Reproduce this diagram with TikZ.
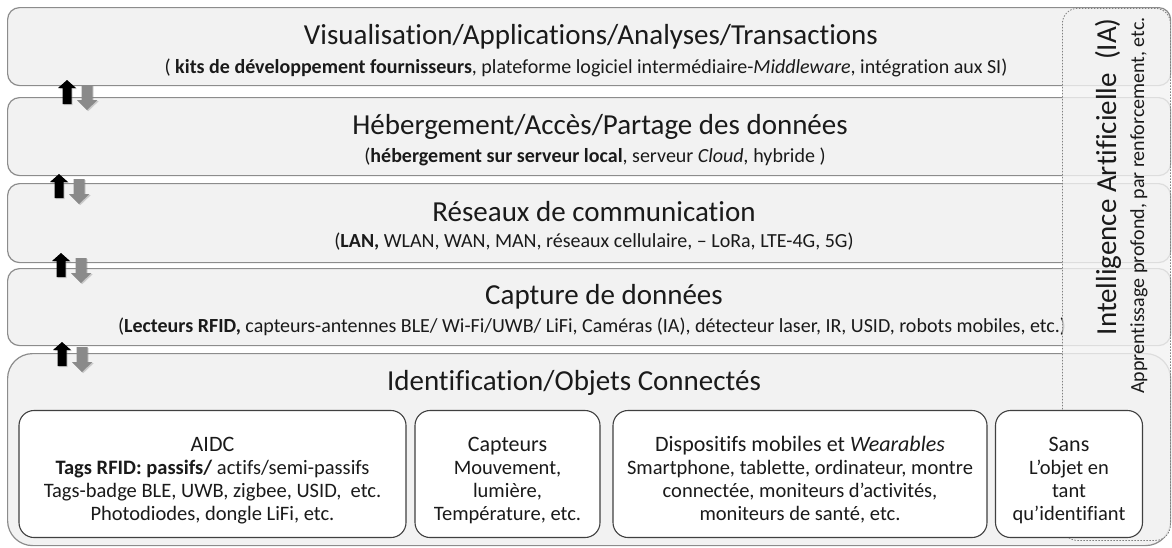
\documentclass[tikz,border=0pt]{standalone}
\usepackage{fontspec}
\setmainfont{Carlito}[Ligatures=NoCommon]
\usetikzlibrary{shadows}
\definecolor{layerfill}{HTML}{F2F2F2}
\definecolor{layerdraw}{HTML}{8C8C8C}
\definecolor{boxdraw}{HTML}{404040}
\definecolor{txt}{HTML}{1A1A1A}
\definecolor{downgray}{HTML}{8A8A8A}
\newcommand{\boxhead}[1]{{\fontsize{22}{23}\selectfont\rule{0pt}{27pt}#1}}
\begin{document}
\begin{tikzpicture}[x=1pt,y=-1pt,
  layer/.style={draw=layerdraw, fill=layerfill, line width=1.2pt, rounded corners=12pt, anchor=north west, inner sep=0pt},
  ltitle/.style={text=txt, font=\fontsize{29}{32}\selectfont, inner sep=0pt},
  lsub/.style={text=txt, font=\fontsize{20}{23}\selectfont, inner sep=0pt},
  inbox/.style={draw=boxdraw, fill=white, line width=1.1pt, rounded corners=15pt, align=center, text=txt,
     font=\fontsize{20.5}{23}\selectfont, inner sep=0pt, minimum height=127pt},
  aibox/.style={draw=gray, dash pattern=on 1.5pt off 1.5pt, line width=0.8pt, fill=layerfill, fill opacity=0.8,
     rounded corners=15pt, anchor=north west, inner sep=0pt, minimum width=108pt, minimum height=532pt},
  updown/.pic={
    \fill[black, drop shadow={shadow xshift=1.2pt, shadow yshift=-1.2pt, opacity=0.35}]
      (9,0) -- (18,8) -- (13.5,8) -- (13.5,24) -- (4.5,24) -- (4.5,8) -- (0,8) -- cycle;
    \fill[downgray, drop shadow={shadow xshift=1.2pt, shadow yshift=-1.2pt, opacity=0.35}]
      (23.5,5) -- (34.5,5) -- (34.5,20) -- (39.5,20) -- (29,30) -- (19,20) -- (23.5,20) -- cycle;
  }
]
\useasboundingbox (0,0) rectangle (1172,547);

% layers
\node[layer, minimum width=1163pt, minimum height=78pt] (L1) at (7,7) {};
\node[layer, minimum width=1163pt, minimum height=78pt] (L2) at (7,97) {};
\node[layer, minimum width=1163pt, minimum height=79pt] (L3) at (7,183) {};
\node[layer, minimum width=1163pt, minimum height=77pt] (L4) at (7,268) {};
\node[layer, rounded corners=25pt, minimum width=1163pt, minimum height=192pt] (L5) at (7,353) {};

% layer texts
\node[ltitle] (t1) at (591,37) {Visualisation/Applications/Analyses/Transactions};
\node[lsub] (s1) at (586,68) {( \textbf{kits de développement fournisseurs}, plateforme logiciel intermédiaire-\textit{Middleware}, intégration aux SI)};
\node[ltitle] (t2) at (600,127) {Hébergement/Accès/Partage des données};
\node[lsub] (s2) at (595,157) {(\textbf{hébergement sur serveur local}, serveur \textit{Cloud,} hybride )};
\node[ltitle] (t3) at (594,212) {Réseaux de communication};
\node[lsub] (s3) at (594,242) {(\textbf{LAN,} WLAN, WAN, MAN, réseaux cellulaire, – LoRa, LTE-4G, 5G)};
\node[ltitle] (t4) at (604,297) {Capture de données};
\node[lsub] (s4) at (592,327) {(\textbf{Lecteurs RFID,} capteurs-antennes BLE/ Wi-Fi/UWB/ LiFi, Caméras (IA), détecteur laser, IR, USID, robots mobiles, etc.)};
\node[ltitle] (t5) at (574,383) {Identification/Objets Connectés};

% arrows
\pic (a1) at (58,80) {updown};
\pic (a2) at (50,174) {updown};
\pic (a3) at (52,253) {updown};
\pic (a4) at (53,342) {updown};

% AI box
\node[aibox] (ai) at (1062,8) {};
\node[rotate=90, anchor=east, text=txt, font=\fontsize{29}{32}\selectfont, inner sep=0pt] (ait) at (1108,18) {Intelligence Artificielle~~(IA)};
\node[rotate=90, anchor=east, text=txt, font=\fontsize{20}{23}\selectfont, inner sep=0pt] (ais) at (1139,17) {Apprentissage profond, par renforcement, etc.};

% inner boxes
\node[inbox, minimum width=387pt] (aidc) at (212.5,474) {\boxhead{AIDC}\\\textbf{Tags RFID: passifs/} actifs/semi-passifs\\Tags-badge BLE, UWB, zigbee, USID,~ etc.\\Photodiodes, dongle LiFi, etc.};
\node[inbox, minimum width=185pt] (capt) at (507.5,474) {\boxhead{Capteurs}\\Mouvement,\\lumière,\\Température, etc.};
\node[inbox, minimum width=374pt] (disp) at (800,474) {\boxhead{Dispositifs mobiles et \textit{Wearables}}\\Smartphone, tablette, ordinateur, montre\\connectée, moniteurs d’activités,\\moniteurs de santé, etc.};
\node[inbox, minimum width=147pt] (sans) at (1069,474) {\boxhead{Sans}\\L’objet en\\tant\\qu’identifiant};
\end{tikzpicture}
\end{document}
